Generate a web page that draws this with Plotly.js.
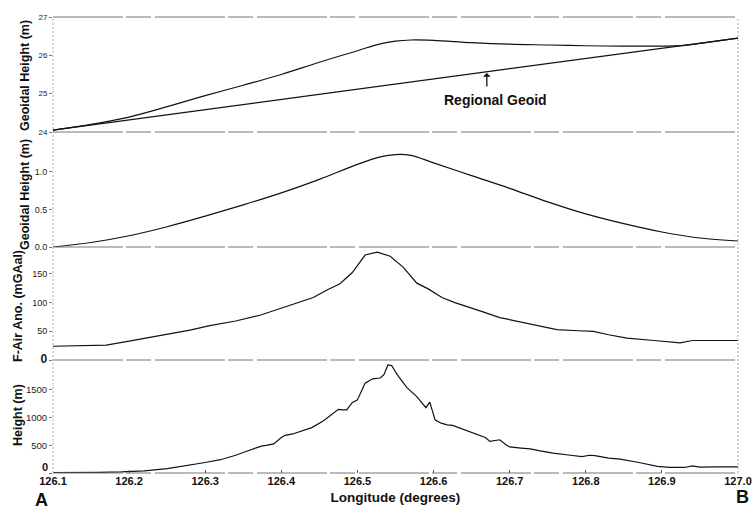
<!DOCTYPE html>
<html>
<head>
<meta charset="utf-8">
<script src="https://cdn.plot.ly/plotly-3.0.1.min.js"></script>
<style>html,body{margin:0;padding:0;background:#fff;}#chart{width:753px;height:515px;}</style>
</head>
<body>
<div id="chart"></div>
<script>
// ---- Panel 1: geoidal height (m)
const geoidLon = [126.10,126.15,126.20,126.25,126.30,126.35,126.40,126.45,126.50,126.53,126.55,126.57,126.60,126.65,126.70,126.75,126.80,126.85,126.90,126.93,126.96,127.00];
const geoidVal = [24.05,24.20,24.39,24.66,24.95,25.22,25.50,25.82,26.12,26.30,26.37,26.40,26.39,26.33,26.29,26.27,26.25,26.24,26.24,26.26,26.34,26.45];
const regionalLon = [126.10,127.00];
const regionalVal = [24.05,26.45];

// ---- Panel 2: residual geoidal height (m)
const residLon = [126.10,126.15,126.20,126.25,126.30,126.35,126.40,126.45,126.50,126.53,126.55,126.57,126.60,126.65,126.70,126.75,126.80,126.85,126.90,126.95,127.00];
const residVal = [0.00,0.06,0.15,0.27,0.41,0.56,0.72,0.90,1.10,1.20,1.23,1.22,1.12,0.95,0.78,0.60,0.44,0.31,0.20,0.12,0.08];

// ---- Panel 3: free-air anomaly (mGal)
const faLon = [126.10,126.17,126.20,126.254,126.28,126.306,126.34,126.372,126.385,126.41,126.442,126.46,126.477,126.493,126.51,126.526,126.543,126.56,126.578,126.593,126.611,126.628,126.645,126.665,126.687,126.714,126.762,126.79,126.81,126.83,126.854,126.89,126.924,126.94,126.96,127.00];
const faVal = [24,26,33,45,52,60,68,78,84,95,109,122,133,152,183,188,181,162,134,124,109,100,93,84,74,66,53,51,50,44,38,34,30,34,34,34];

// ---- Panel 4: topographic height (m)
const hLon = [126.10,126.13,126.16,126.19,126.22,126.25,126.28,126.30,126.32,126.34,126.36,126.37,126.375,126.38,126.39,126.40,126.405,126.415,126.43,126.44,126.455,126.465,126.475,126.48,126.486,126.493,126.50,126.51,126.52,126.53,126.535,126.54,126.545,126.552,126.56,126.565,126.578,126.585,126.59,126.595,126.602,126.61,126.618,126.625,126.631,126.64,126.648,126.66,126.668,126.674,126.68,126.687,126.695,126.70,126.715,126.727,126.74,126.757,126.78,126.795,126.805,126.812,126.83,126.845,126.87,126.894,126.91,126.93,126.94,126.95,126.97,127.00];
const hVal = [5,5,10,20,40,80,140,190,240,320,420,470,490,500,525,640,680,705,770,820,940,1050,1150,1140,1140,1270,1320,1620,1700,1715,1780,1950,1940,1780,1640,1540,1380,1260,1180,1280,960,900,870,860,830,790,740,680,640,570,590,600,510,470,450,435,400,360,320,295,320,315,270,250,190,120,100,100,130,105,110,110];

// ---- axis ticks
const lonTicks = [126.1,126.2,126.3,126.4,126.5,126.6,126.7,126.8,126.9,127.0];
const lonTickText = ['126.1','126.2','126.3','126.4','126.5','126.6','126.7','126.8','126.9','127.0'];
const y1Ticks = [24,25,26,27];
const y2Ticks = [0,0.5,1.0];
const y2TickText = ['0.0','0.5','1.0'];
const y3Ticks = [0,50,100,150];
const y4Ticks = [0,500,1000,1500];
const y4TickText = ['','500','1000','1500'];

const SANS = 'Liberation Sans, Arial, sans-serif';
const baseLine = {color:'#111', width:1.2};

const traces = [
  {x:geoidLon, y:geoidVal, xaxis:'x', yaxis:'y', mode:'lines', line:Object.assign({shape:'spline'}, baseLine)},
  {x:regionalLon, y:regionalVal, xaxis:'x', yaxis:'y', mode:'lines', line:baseLine},
  {x:residLon, y:residVal, xaxis:'x', yaxis:'y2', mode:'lines', line:Object.assign({shape:'spline'}, baseLine)},
  {x:faLon, y:faVal, xaxis:'x', yaxis:'y3', mode:'lines', line:baseLine},
  {x:hLon, y:hVal, xaxis:'x', yaxis:'y4', mode:'lines', line:baseLine}
];

const D = [0, 0.2478, 0.4956, 0.7478, 1];
const yCommon = {showgrid:false, zeroline:false, showline:false, ticks:'outside', ticklen:3, tickcolor:'#777', anchor:'x', fixedrange:true};

const bounds = D.map(v => ({type:'line', xref:'paper', yref:'paper', x0:0, x1:1, y0:v, y1:v,
  line:{color:'#777', width:1, dash:'70px,3px,25px,4px'}}));
const sides = [0,1].map(v => ({type:'line', xref:'paper', yref:'paper', x0:v, x1:v, y0:0, y1:1,
  line:{color:'#aaa', width:1, dash:'2px,2px'}}));

const titleFont = {family:SANS, size:12.5, color:'#111', weight:'bold'};
const tickFont = {family:SANS, size:9, color:'#222'};
const layout = {
  width:753, height:515,
  margin:{l:53, r:15, t:17, b:42},
  paper_bgcolor:'#fff', plot_bgcolor:'#fff',
  showlegend:false,
  xaxis:{range:[126.1,127.0], anchor:'y4', domain:[0,1], tickvals:lonTicks, ticktext:lonTickText,
    tickfont:{family:SANS, size:11, color:'#111', weight:'bold'}, ticks:'inside', ticklen:3, tickcolor:'#555',
    showgrid:false, zeroline:false, showline:false,
    title:{text:'Longitude (degrees)', font:{family:SANS, size:13.5, color:'#111', weight:'bold'}, standoff:6}},
  yaxis:Object.assign({}, yCommon, {domain:[D[3],D[4]], range:[24,27], tickvals:y1Ticks, tickfont:{family:SANS, size:8, color:'#222'}}),
  yaxis2:Object.assign({}, yCommon, {domain:[D[2],D[3]], range:[0,1.53], tickvals:y2Ticks, ticktext:y2TickText, tickfont:tickFont}),
  yaxis3:Object.assign({}, yCommon, {domain:[D[1],D[2]], range:[0,197], tickvals:y3Ticks,
    ticktext:['<b><span style="font-size:12px">0</span></b>','50','100','150'], tickfont:tickFont}),
  yaxis4:Object.assign({}, yCommon, {domain:[D[0],D[1]], range:[0,2040], tickvals:y4Ticks,
    ticktext:y4TickText, tickfont:{family:SANS, size:9.5, color:'#222'}}),
  shapes: bounds.concat(sides),
  annotations:[
    {xref:'paper', yref:'paper', x:0, y:(473-76)/456, xshift:-28, text:'Geoidal Height (m)', textangle:-90, showarrow:false, font:titleFont, xanchor:'center', yanchor:'middle'},
    {xref:'paper', yref:'paper', x:0, y:(473-195)/456, xshift:-28, text:'Geoidal Height (m)', textangle:-90, showarrow:false, font:titleFont, xanchor:'center', yanchor:'middle'},
    {xref:'paper', yref:'paper', x:0, y:(473-306)/456, xshift:-35, text:'F-Air Ano. (mGAal)', textangle:-90, showarrow:false, font:titleFont, xanchor:'center', yanchor:'middle'},
    {xref:'paper', yref:'paper', x:0, y:(473-415)/456, xshift:-35, text:'Height (m)', textangle:-90, showarrow:false, font:titleFont, xanchor:'center', yanchor:'middle'},
    {xref:'paper', yref:'y4', x:0, y:0, xshift:-3, yshift:-2, text:'0', showarrow:false, font:{family:SANS, size:11, color:'#111', weight:'bold'}, xanchor:'right', yanchor:'bottom'},
    {xref:'x', yref:'y', x:126.670, y:25.54, ax:0, ay:15, text:'', showarrow:true, arrowhead:1, arrowsize:1, arrowwidth:1.3, arrowcolor:'#111'},
    {xref:'x', yref:'y', x:126.681, y:24.83, text:'Regional Geoid', showarrow:false, font:{family:SANS, size:14, color:'#111', weight:'bold'}, xanchor:'center', yanchor:'middle'},
    {xref:'paper', yref:'paper', x:0, xshift:-12, y:(473-500)/456, text:'A', showarrow:false, font:{family:SANS, size:18, color:'#111', weight:'bold'}, xanchor:'center', yanchor:'middle'},
    {xref:'paper', yref:'paper', x:1, xshift:4, y:(473-497)/456, text:'B', showarrow:false, font:{family:SANS, size:18, color:'#111', weight:'bold'}, xanchor:'center', yanchor:'middle'}
  ]
};

Plotly.newPlot('chart', traces, layout, {displayModeBar:false, staticPlot:true});
</script>
</body>
</html>
